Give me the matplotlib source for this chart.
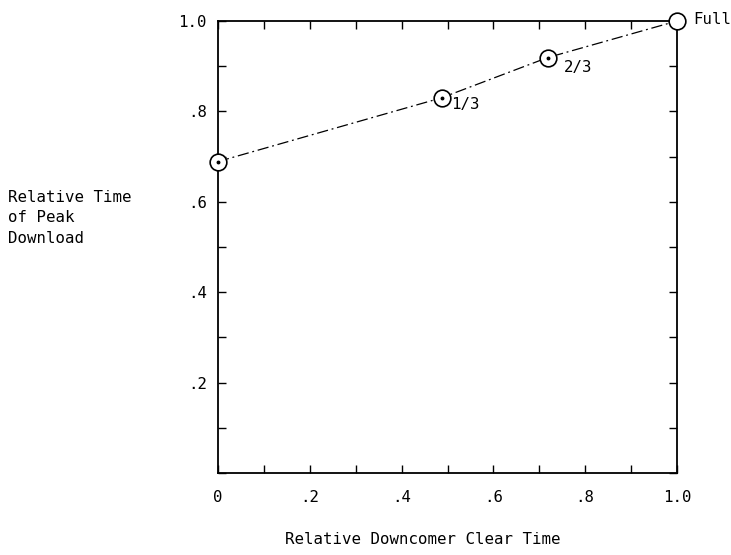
import matplotlib.pyplot as plt
from matplotlib.ticker import FixedLocator, FixedFormatter

# Data
clear_time = [0.0, 0.487, 0.718, 1.0]
peak_time = [0.689, 0.830, 0.919, 1.0]
point_labels = ['', '1/3', '2/3', 'Full']
label_offsets = [(0, 0), (7, -5), (12, -7), (12, 1)]   # points
has_dot = [True, True, True, False]

x_ticks = [0, 0.2, 0.4, 0.6, 0.8, 1.0]
x_ticklabels = ['0', '.2', '.4', '.6', '.8', '1.0']
y_ticks = [0, 0.2, 0.4, 0.6, 0.8, 1.0]
y_ticklabels = ['', '.2', '.4', '.6', '.8', '1.0']

plt.rcParams['font.family'] = ['DejaVu Sans Mono', 'Liberation Mono']
fs = 11.3

fig = plt.figure(figsize=(7.31, 5.55), dpi=100)
ax = fig.add_axes([218 / 731, 82 / 555, 459 / 731, 452 / 555])

# dash-dot connecting line
ax.plot(clear_time, peak_time, color='black', lw=0.9,
        linestyle=(0, (9, 3, 1.5, 3)), zorder=2, clip_on=False)

# open circles with center dot
ax.plot(clear_time, peak_time, linestyle='none', marker='o', ms=12,
        mfc='white', mec='black', mew=1.2, zorder=3, clip_on=False)
dot_x = [x for x, d in zip(clear_time, has_dot) if d]
dot_y = [y for y, d in zip(peak_time, has_dot) if d]
ax.plot(dot_x, dot_y, linestyle='none', marker='o', ms=1.8,
        color='black', zorder=4, clip_on=False)

for x, y, lab, off in zip(clear_time, peak_time, point_labels, label_offsets):
    if lab:
        ax.annotate(lab, (x, y), xytext=off, textcoords='offset points',
                    ha='left', va='center', fontsize=fs)

ax.set_xlim(0, 1.0)
ax.set_ylim(0, 1.0)

ax.xaxis.set_major_locator(FixedLocator(x_ticks))
ax.xaxis.set_major_formatter(FixedFormatter(x_ticklabels))
ax.yaxis.set_major_locator(FixedLocator(y_ticks))
ax.yaxis.set_major_formatter(FixedFormatter(y_ticklabels))
ax.xaxis.set_minor_locator(FixedLocator([0.1, 0.3, 0.5, 0.7, 0.9]))
ax.yaxis.set_minor_locator(FixedLocator([0.1, 0.3, 0.5, 0.7, 0.9]))

ax.tick_params(which='both', direction='in', top=True, right=True,
               length=6, width=1.0, labelsize=fs)
ax.tick_params(axis='x', pad=12)
ax.tick_params(axis='y', pad=8)

for s in ax.spines.values():
    s.set_linewidth(1.3)

fig.text(423 / 731, 15 / 555, 'Relative Downcomer Clear Time',
         ha='center', va='center', fontsize=fs)
fig.text(8 / 731, 337 / 555, 'Relative Time\nof Peak\nDownload',
         ha='left', va='center', fontsize=fs, linespacing=1.45)

fig.savefig('out.png', dpi=100)
